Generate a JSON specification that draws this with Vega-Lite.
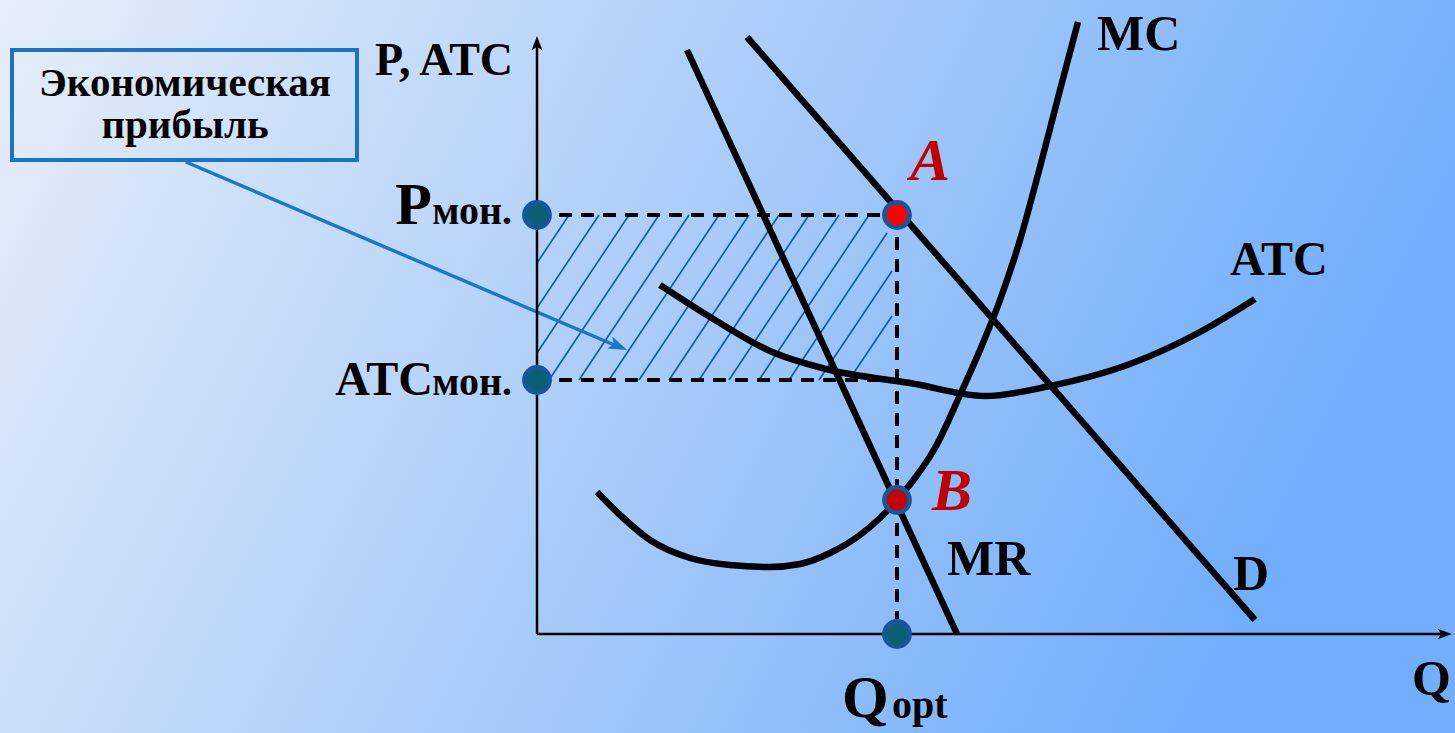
{
  "$schema": "https://vega.github.io/schema/vega-lite/v6.json",
  "width": 1455,
  "height": 733,
  "autosize": {"type": "none"},
  "padding": 0,
  "background": "#ffffff",
  "config": {"view": {"stroke": null}, "text": {"font": "Liberation Serif", "fontWeight": "bold", "baseline": "alphabetic", "align": "left", "color": "#000000"}},
  "datasets": {
    "bg": [{"x": -537, "y": -99, "x2": 918, "y2": 634}],
    "box": [{"x": -525, "y": 584, "x2": -180, "y2": 474}],
    "boxText": [{"x": -352, "y": 538, "label": "Экономическая"}, {"x": -352, "y": 496, "label": "прибыль"}],
    "pointer": [{"x": -351, "y": 472, "x2": 82, "y2": 287}],
    "pointerHead": [{"x": 81, "y": 288}],
    "axes": [{"x": 0, "y": 0, "x2": 0, "y2": 590}, {"x": 0, "y": 0, "x2": 906, "y2": 0}],
    "yHead": [{"x": 0, "y": 589}],
    "xHead": [{"x": 906, "y": 0}],
    "hatch": [
      {"x": 0, "y": 371, "x2": 32, "y2": 419},
      {"x": 0, "y": 326, "x2": 62, "y2": 419},
      {"x": 0, "y": 281, "x2": 92, "y2": 419},
      {"x": 12, "y": 254, "x2": 122, "y2": 419},
      {"x": 42, "y": 254, "x2": 152, "y2": 419},
      {"x": 72, "y": 254, "x2": 182, "y2": 419},
      {"x": 102, "y": 254, "x2": 212, "y2": 419},
      {"x": 132, "y": 254, "x2": 242, "y2": 419},
      {"x": 162, "y": 254, "x2": 272, "y2": 419},
      {"x": 192, "y": 254, "x2": 302, "y2": 419},
      {"x": 222, "y": 254, "x2": 332, "y2": 419},
      {"x": 252, "y": 254, "x2": 350, "y2": 401},
      {"x": 282, "y": 254, "x2": 355, "y2": 363},
      {"x": 312, "y": 254, "x2": 355, "y2": 318}
    ],
    "dash": [{"x": 0, "y": 419, "x2": 360, "y2": 419}, {"x": 0, "y": 254, "x2": 356, "y2": 254}, {"x": 360, "y": 419, "x2": 360, "y2": 0}],
    "straight": [{"name": "MR", "x": 150, "y": 584, "x2": 420, "y2": 0}, {"name": "D", "x": 210, "y": 597, "x2": 718, "y2": 14}],
    "curves": [
      {"curve": "MC", "x": 60, "y": 142}, {"curve": "MC", "x": 83, "y": 119}, {"curve": "MC", "x": 113, "y": 94}, {"curve": "MC", "x": 153, "y": 76},
      {"curve": "MC", "x": 193, "y": 69}, {"curve": "MC", "x": 233, "y": 67}, {"curve": "MC", "x": 263, "y": 70}, {"curve": "MC", "x": 293, "y": 81},
      {"curve": "MC", "x": 323, "y": 99}, {"curve": "MC", "x": 343, "y": 116}, {"curve": "MC", "x": 360, "y": 134}, {"curve": "MC", "x": 378, "y": 156},
      {"curve": "MC", "x": 398, "y": 186}, {"curve": "MC", "x": 423, "y": 239}, {"curve": "MC", "x": 443, "y": 284}, {"curve": "MC", "x": 463, "y": 334},
      {"curve": "MC", "x": 483, "y": 394}, {"curve": "MC", "x": 503, "y": 467}, {"curve": "MC", "x": 523, "y": 544}, {"curve": "MC", "x": 541, "y": 612},
      {"curve": "ATC", "x": 123, "y": 349}, {"curve": "ATC", "x": 178, "y": 314}, {"curve": "ATC", "x": 233, "y": 283}, {"curve": "ATC", "x": 293, "y": 264},
      {"curve": "ATC", "x": 373, "y": 251}, {"curve": "ATC", "x": 448, "y": 238}, {"curve": "ATC", "x": 513, "y": 248}, {"curve": "ATC", "x": 593, "y": 270},
      {"curve": "ATC", "x": 663, "y": 302}, {"curve": "ATC", "x": 718, "y": 335}
    ],
    "tealPts": [{"name": "Pмон.", "x": 0, "y": 419}, {"name": "ATCмон.", "x": 0, "y": 254}, {"name": "Qopt", "x": 360, "y": 0}],
    "ptA": [{"name": "A", "x": 360, "y": 419}],
    "ptB": [{"name": "B", "x": 360, "y": 134}],
    "lab50": [{"x": 560, "y": 584, "label": "MC"}, {"x": 410, "y": 59, "label": "MR"}, {"x": 696, "y": 44, "label": "D"}, {"x": 875, "y": -61, "label": "Q"}],
    "lab48": [{"x": 693, "y": 359, "label": "ATC"}],
    "labAxis": [{"x": -162, "y": 559, "label": "P, ATC"}],
    "bigP": [{"x": -105, "y": 410, "label": "P"}],
    "bigATC": [{"x": -104, "y": 239, "label": "ATC"}],
    "subLeft": [{"x": -25, "y": 410, "label": "мон."}, {"x": -25, "y": 239, "label": "мон."}],
    "qBig": [{"x": 305, "y": -83, "label": "Q"}],
    "qSub": [{"x": 355, "y": -84, "label": "opt"}],
    "redLab": [{"x": 373, "y": 454, "label": "A"}, {"x": 395, "y": 124, "label": "B"}]
  },
  "encoding": {
    "x": {"field": "x", "type": "quantitative", "scale": {"domain": [-537, 918], "nice": false, "zero": false}, "axis": null},
    "y": {"field": "y", "type": "quantitative", "scale": {"domain": [-99, 634], "nice": false, "zero": false}, "axis": null}
  },
  "layer": [
    {"data": {"name": "bg"}, "mark": {"type": "rect", "fill": {"gradient": "linear", "x1": 0, "y1": 0, "x2": 1, "y2": 0.25, "stops": [{"offset": 0, "color": "#e7eef8"}, {"offset": 1, "color": "#71aefb"}]}}, "encoding": {"x2": {"field": "x2"}, "y2": {"field": "y2"}}},
    {"data": {"name": "hatch"}, "mark": {"type": "rule", "color": "#0d5aa0", "strokeWidth": 1.6}, "encoding": {"x2": {"field": "x2"}, "y2": {"field": "y2"}}},
    {"data": {"name": "box"}, "mark": {"type": "rect", "fillOpacity": 0, "stroke": "#1b74c3", "strokeWidth": 4}, "encoding": {"x2": {"field": "x2"}, "y2": {"field": "y2"}}},
    {"data": {"name": "boxText"}, "mark": {"type": "text", "fontSize": 41, "align": "center"}, "encoding": {"text": {"field": "label"}}},
    {"data": {"name": "pointer"}, "mark": {"type": "rule", "color": "#1a78c8", "strokeWidth": 3.5}, "encoding": {"x2": {"field": "x2"}, "y2": {"field": "y2"}}},
    {"data": {"name": "pointerHead"}, "mark": {"type": "point", "filled": true, "color": "#1a78c8", "opacity": 1, "shape": "M1,0L-0.9,-0.65L-0.45,0L-0.9,0.65Z", "size": 400, "angle": 23}},
    {"data": {"name": "axes"}, "mark": {"type": "rule", "color": "#000000", "strokeWidth": 2.5}, "encoding": {"x2": {"field": "x2"}, "y2": {"field": "y2"}}},
    {"data": {"name": "yHead"}, "mark": {"type": "point", "filled": true, "color": "#000000", "opacity": 1, "shape": "M0,-1L0.6,0.6L0,0.2L-0.6,0.6Z", "size": 320}},
    {"data": {"name": "xHead"}, "mark": {"type": "point", "filled": true, "color": "#000000", "opacity": 1, "shape": "M1,0L-0.6,-0.6L-0.2,0L-0.6,0.6Z", "size": 320}},
    {"data": {"name": "dash"}, "mark": {"type": "rule", "color": "#000000", "strokeWidth": 4, "strokeDash": [13, 9]}, "encoding": {"x2": {"field": "x2"}, "y2": {"field": "y2"}}},
    {"data": {"name": "curves"}, "mark": {"type": "line", "color": "#000000", "strokeWidth": 6.5, "interpolate": "monotone", "strokeCap": "butt"}, "encoding": {"detail": {"field": "curve"}}},
    {"data": {"name": "straight"}, "mark": {"type": "rule", "color": "#000000", "strokeWidth": 6.5}, "encoding": {"x2": {"field": "x2"}, "y2": {"field": "y2"}}},
    {"data": {"name": "tealPts"}, "mark": {"type": "point", "filled": true, "fill": "#0b5f74", "stroke": "#16579c", "strokeWidth": 4.5, "opacity": 1, "size": 640}},
    {"data": {"name": "ptA"}, "mark": {"type": "point", "filled": true, "fill": "#ff0000", "stroke": "#16579c", "strokeWidth": 4.5, "opacity": 1, "size": 640}},
    {"data": {"name": "ptB"}, "mark": {"type": "point", "filled": true, "fill": "#c40000", "stroke": "#16579c", "strokeWidth": 4.5, "opacity": 1, "size": 640}},
    {"data": {"name": "lab50"}, "mark": {"type": "text", "fontSize": 50}, "encoding": {"text": {"field": "label"}}},
    {"data": {"name": "lab48"}, "mark": {"type": "text", "fontSize": 48}, "encoding": {"text": {"field": "label"}}},
    {"data": {"name": "labAxis"}, "mark": {"type": "text", "fontSize": 46}, "encoding": {"text": {"field": "label"}}},
    {"data": {"name": "bigP"}, "mark": {"type": "text", "fontSize": 60, "align": "right"}, "encoding": {"text": {"field": "label"}}},
    {"data": {"name": "bigATC"}, "mark": {"type": "text", "fontSize": 48, "align": "right"}, "encoding": {"text": {"field": "label"}}},
    {"data": {"name": "subLeft"}, "mark": {"type": "text", "fontSize": 40, "align": "right"}, "encoding": {"text": {"field": "label"}}},
    {"data": {"name": "qBig"}, "mark": {"type": "text", "fontSize": 60}, "encoding": {"text": {"field": "label"}}},
    {"data": {"name": "qSub"}, "mark": {"type": "text", "fontSize": 40}, "encoding": {"text": {"field": "label"}}},
    {"data": {"name": "redLab"}, "mark": {"type": "text", "fontSize": 60, "fontStyle": "italic", "color": "#c00000"}, "encoding": {"text": {"field": "label"}}}
  ]
}
